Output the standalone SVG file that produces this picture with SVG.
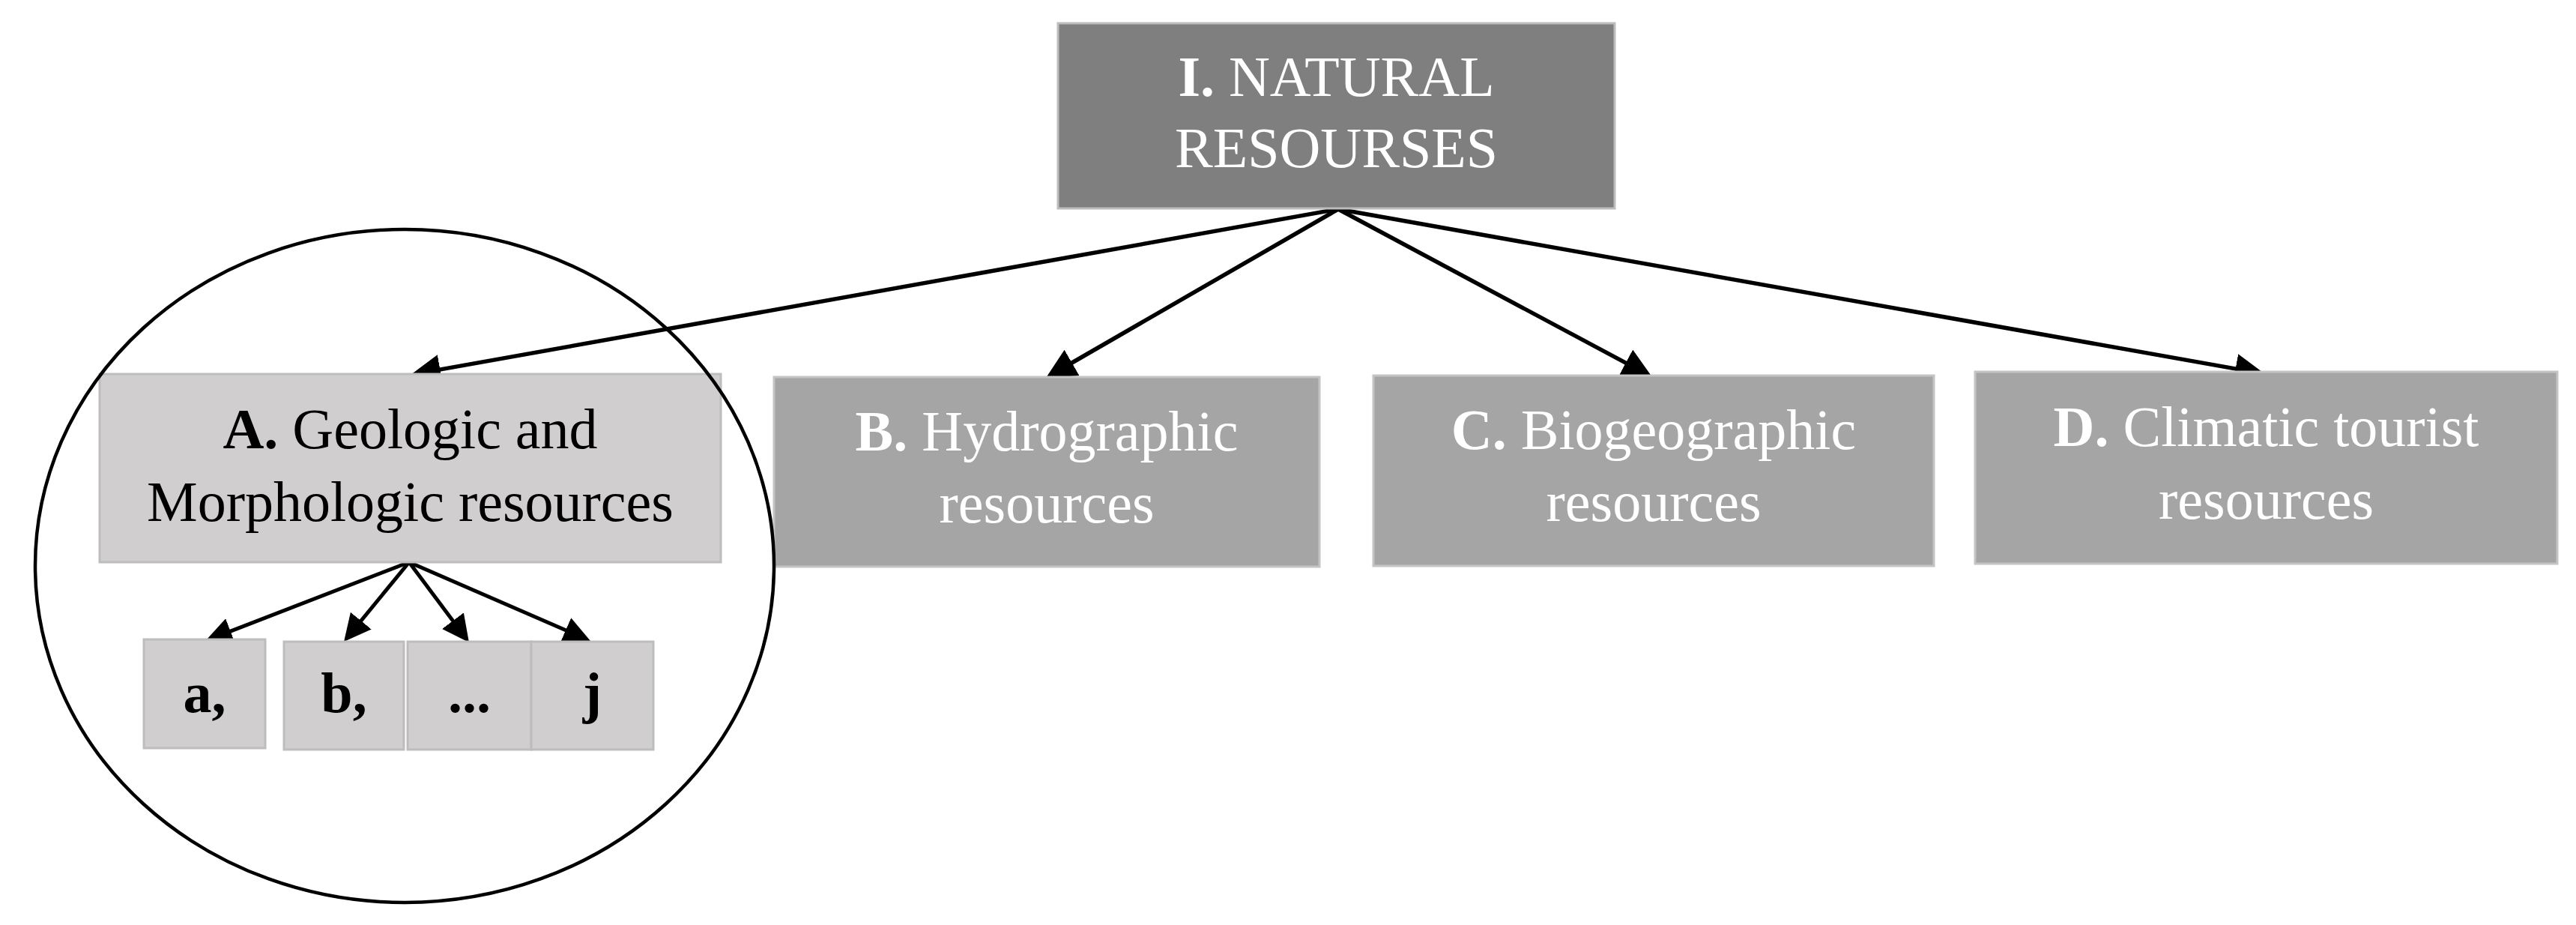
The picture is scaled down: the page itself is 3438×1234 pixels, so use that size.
<svg xmlns="http://www.w3.org/2000/svg" width="3438" height="1234" viewBox="0 0 3438 1234">
  <style>
    .lbl { font-family: "Liberation Serif", "Times New Roman", serif; font-size: 76px; text-anchor: middle; }
    .w { fill: #ffffff; }
    .k { fill: #000000; }
    .b { font-weight: bold; }
    .top { fill: #7f7f7f; stroke: #bdbdbd; stroke-width: 3; }
    .mid { fill: #a5a5a5; stroke: #c4c4c4; stroke-width: 3; }
    .lt { fill: #d0cece; stroke: #bdbdbd; stroke-width: 3; }
    .conn { stroke: #000; stroke-width: 5.5; fill: none; }
    .sconn { stroke: #000; stroke-width: 5; fill: none; }
  </style>
  <defs>
    <marker id="arr" markerUnits="userSpaceOnUse" markerWidth="40" markerHeight="40" refX="8" refY="20" orient="auto">
      <path d="M0,0 L40,20 L0,40 z" fill="#000"/>
    </marker>
    <marker id="sarr" markerUnits="userSpaceOnUse" markerWidth="36" markerHeight="36" refX="7" refY="18" orient="auto">
      <path d="M0,0 L36,18 L0,36 z" fill="#000"/>
    </marker>
  </defs>
  <rect width="3438" height="1234" fill="#ffffff"/>

  <g id="connectors">
    <line class="conn" x1="1786" y1="279" x2="579.5" y2="494.4" marker-end="url(#arr)"/>
    <line class="conn" x1="1786" y1="279" x2="1423.7" y2="488" marker-end="url(#arr)"/>
    <line class="conn" x1="1786" y1="279" x2="2176.8" y2="487.9" marker-end="url(#arr)"/>
    <line class="conn" x1="1786" y1="279" x2="2991.5" y2="493.4" marker-end="url(#arr)"/>
    <line class="sconn" x1="546" y1="750" x2="301.1" y2="844.6" marker-end="url(#sarr)"/>
    <line class="sconn" x1="546" y1="750" x2="477.4" y2="833.6" marker-end="url(#sarr)"/>
    <line class="sconn" x1="546" y1="750" x2="608.6" y2="833.8" marker-end="url(#sarr)"/>
    <line class="sconn" x1="546" y1="750" x2="761.4" y2="843.5" marker-end="url(#sarr)"/>
  </g>

  <g id="node-natural">
    <rect class="top" x="1412" y="31" width="743" height="247"/>
    <text class="lbl w" x="1783.5" y="128" font-size="73"><tspan class="b">I.</tspan> NATURAL</text>
    <text class="lbl w" x="1783.5" y="223" font-size="73">RESOURSES</text>
  </g>

  <g id="node-A">
    <rect class="lt" x="133" y="499" width="829" height="251"/>
    <text class="lbl k" x="547.5" y="598"><tspan class="b">A.</tspan> Geologic and</text>
    <text class="lbl k" x="547.5" y="695">Morphologic resources</text>
  </g>

  <g id="node-B">
    <rect class="mid" x="1033" y="503" width="728" height="253"/>
    <text class="lbl w" x="1397" y="601"><tspan class="b">B.</tspan> Hydrographic</text>
    <text class="lbl w" x="1397" y="697">resources</text>
  </g>

  <g id="node-C">
    <rect class="mid" x="1833" y="501" width="748" height="254"/>
    <text class="lbl w" x="2207" y="599"><tspan class="b">C.</tspan> Biogeographic</text>
    <text class="lbl w" x="2207" y="695">resources</text>
  </g>

  <g id="node-D">
    <rect class="mid" x="2636" y="496" width="777" height="256"/>
    <text class="lbl w" x="3024.5" y="595"><tspan class="b">D.</tspan> Climatic tourist</text>
    <text class="lbl w" x="3024.5" y="692">resources</text>
  </g>

  <g id="node-a">
    <rect class="lt" x="192" y="853" width="162" height="145"/>
    <text class="lbl k b" x="273" y="950" font-size="72">a,</text>
  </g>
  <g id="node-b">
    <rect class="lt" x="379" y="856" width="160" height="144"/>
    <text class="lbl k b" x="459" y="950" font-size="72">b,</text>
  </g>
  <g id="node-dots">
    <rect class="lt" x="544" y="856" width="165" height="144"/>
    <text class="lbl k b" x="626.5" y="950" font-size="72">...</text>
  </g>
  <g id="node-j">
    <rect class="lt" x="709" y="856" width="163" height="144"/>
    <text class="lbl k b" x="790.5" y="950" font-size="72">j</text>
  </g>

  <g id="group-ring">
    <ellipse cx="540" cy="755" rx="493" ry="449" fill="none" stroke="#000" stroke-width="4.5"/>
  </g>
</svg>
